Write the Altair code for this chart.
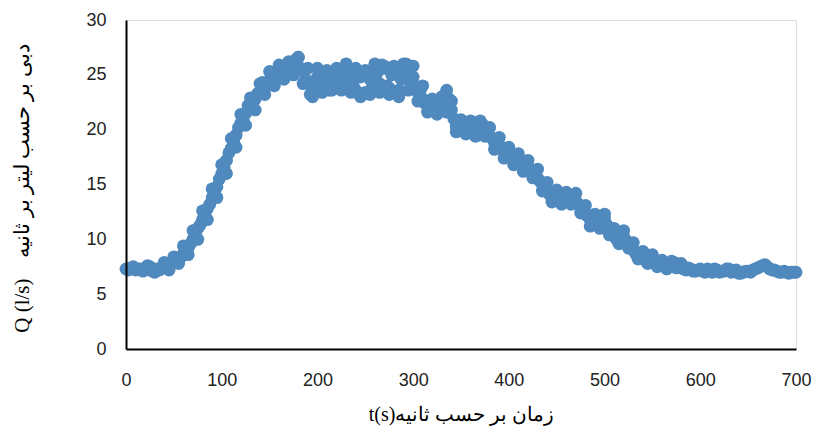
import altair as alt
import pandas as pd

# discharge Q (l/s), at t = 0, 5, ..., 700 s
t_main = [i * 5 for i in range(141)]
q_main = [
    7.3, 7.4, 7.2, 7.3, 7.2, 7.5, 7.0, 7.2, 7.5, 7.6,
    7.9, 8.3, 8.7, 9.2, 10.0, 11.0, 11.8, 12.8, 13.8, 14.8,
    16.0, 17.2, 18.3, 19.5, 20.6, 21.5, 22.1, 22.8, 23.4, 24.2,
    24.5, 24.8, 25.2, 25.3, 25.6, 26.0, 26.6, 25.4, 24.2, 23.4,
    24.8, 24.0, 23.8, 25.0, 24.2, 25.2, 25.8, 24.6, 23.6, 24.8,
    23.4, 24.6, 25.8, 24.2, 25.6, 23.8, 25.4, 23.6, 25.2, 25.8,
    24.8, 23.4, 22.8, 22.2, 21.9, 21.8, 22.2, 23.6, 21.8, 20.3,
    20.1, 20.4, 19.9, 19.7, 20.3, 20.2, 19.4, 18.8, 18.6, 18.0,
    17.6, 17.3, 17.1, 16.8, 16.5, 16.2, 15.6, 15.0, 14.4, 14.0,
    13.8, 13.8, 13.7, 13.9, 13.5, 12.9, 12.3, 11.8, 11.6, 11.5,
    11.9, 11.0, 10.3, 10.0, 10.2, 9.7, 9.0, 8.5, 8.3, 8.1,
    8.2, 7.8, 7.6, 7.5, 7.6, 7.8, 7.4, 7.2, 7.3, 7.1,
    7.3, 7.0, 7.2, 7.3, 7.0, 7.1, 7.3, 7.1, 6.9, 7.0,
    7.1, 7.2, 7.4, 7.6, 7.5, 7.2, 7.1, 7.0, 7.0, 7.0,
    7.0,
]
# discharge Q (l/s), at t = 2.5, 7.5, ..., 697.5 s
t_mid = [i * 5 + 2.5 for i in range(140)]
q_mid = [
    7.2, 7.5, 7.3, 7.1, 7.6, 7.1, 7.3, 7.4, 7.7, 7.8,
    8.1, 8.4, 9.0, 9.6, 10.6, 11.3, 12.4, 13.2, 14.4, 15.5,
    16.5, 17.9, 18.9, 20.2, 20.9, 22.2, 22.4, 23.3, 24.3, 24.0,
    25.0, 24.6, 25.8, 25.0, 25.9, 26.4, 25.6, 24.6, 23.2, 24.4,
    24.2, 24.9, 23.6, 24.6, 25.4, 24.2, 25.2, 24.0, 25.0, 23.2,
    24.9, 24.0, 25.2, 25.9, 24.0, 25.0, 23.4, 24.6, 26.0, 24.2,
    24.0, 23.6, 22.4, 22.0, 22.3, 21.7, 22.6, 22.8, 21.0, 19.9,
    20.6, 20.0, 20.2, 19.5, 20.5, 19.7, 19.2, 18.5, 18.3, 17.8,
    17.4, 17.2, 16.9, 16.6, 16.4, 15.9, 15.3, 14.6, 14.1, 13.9,
    13.6, 14.0, 13.5, 13.7, 13.2, 12.6, 12.1, 11.7, 11.4, 12.0,
    11.3, 10.6, 10.0, 10.3, 9.9, 9.3, 8.7, 8.4, 8.1, 8.3,
    7.9, 7.7, 7.5, 7.7, 7.9, 7.5, 7.3, 7.4, 7.1, 7.2,
    7.1, 7.3, 7.0, 7.2, 7.1, 7.3, 7.0, 7.2, 6.9, 7.1,
    7.0, 7.3, 7.5, 7.7, 7.3, 7.2, 7.0, 7.1, 6.9, 7.0,
]
# upper scatter of the points, at t = 40, 50, ..., 580 s
t_hi = [40 + i * 10 for i in range(55)]
q_hi = [
    7.9, 8.4, 9.4, 10.8, 12.6, 14.6,
    16.8, 19.2, 21.4, 22.9, 24.2, 25.3, 25.9, 26.2, 26.6, 25.6,
    25.6, 25.4, 25.6, 26.0, 25.6, 25.4, 26.0, 25.8, 25.8, 26.0,
    25.8, 24.0, 22.8, 23.0, 22.6, 20.9, 20.8, 20.8, 20.2, 19.3,
    18.4, 17.8, 17.2, 16.4, 15.2, 14.5, 14.3, 14.2, 13.1, 12.3,
    12.3, 11.0, 10.8, 9.7, 8.9, 8.6, 8.1, 8.0, 7.8,
]
# lower scatter of the points, at t = 45, 55, ..., 575 s
t_lo = [45 + i * 10 for i in range(54)]
q_lo = [
    7.2, 7.8, 8.6, 10.0, 11.8, 13.8, 16.0, 18.4, 20.4, 21.8,
    23.2, 24.0, 24.6, 25.0, 24.2, 23.0, 23.4, 23.6, 23.6, 23.4,
    23.0, 23.2, 23.4, 23.2, 23.0, 23.6, 22.6, 21.6, 21.4, 21.6,
    19.8, 19.6, 19.4, 19.4, 18.2, 17.4, 16.8, 16.2, 15.6, 14.4,
    13.4, 13.2, 13.2, 12.4, 11.2, 11.0, 10.4, 9.6, 9.2, 8.2,
    7.8, 7.5, 7.3, 7.4,
]
x_ticks = [0, 100, 200, 300, 400, 500, 600, 700]
y_ticks = [0, 5, 10, 15, 20, 25, 30]

df = pd.DataFrame({
    "t": t_main + t_mid + t_hi + t_lo,
    "Q": q_main + q_mid + q_hi + q_lo,
})

x_title = "t(s)زمان بر حسب ثانیه"
y_title = "Q (l/s)\u00a0\u00a0\u00a0 دبی بر حسب لیتر بر ثانیه"

chart = (
    alt.Chart(df)
    .mark_circle(size=165, color="#4F89BD", opacity=1)
    .encode(
        x=alt.X(
            "t:Q",
            scale=alt.Scale(domain=[0, 700], nice=False),
            axis=alt.Axis(
                values=x_ticks,
                title=x_title,
                grid=False,
                ticks=False,
                labelFlush=False,
                domainColor="black",
                domainWidth=2,
                labelFont="Liberation Sans",
                labelFontSize=18,
                labelColor="#222222",
                labelPadding=22,
                titleFont="Liberation Serif",
                titleFontSize=20,
                titleFontWeight="normal",
                titleColor="black",
                titlePadding=15,
                zindex=1,
            ),
        ),
        y=alt.Y(
            "Q:Q",
            scale=alt.Scale(domain=[0, 30], nice=False),
            axis=alt.Axis(
                values=y_ticks,
                title=y_title,
                grid=False,
                ticks=False,
                labelFlush=False,
                domainColor="black",
                domainWidth=2,
                labelFont="Liberation Sans",
                labelFontSize=18,
                labelColor="#222222",
                labelPadding=20,
                titleFont="Liberation Serif",
                titleFontSize=21,
                titleFontWeight="normal",
                titleColor="black",
                titleX=-104,
                titleY=168,
                titleAlign="center",
                titleBaseline="middle",
                zindex=1,
            ),
        ),
    )
    .properties(
        width=670,
        height=329,
        autosize=alt.AutoSizeParams(type="none"),
        padding={"left": 118, "top": 12, "right": 16, "bottom": 80},
    )
    .configure_view(stroke=None)
    .configure(background="white")
)

chart.save("out.html", embed_options={"renderer": "svg", "actions": False})
